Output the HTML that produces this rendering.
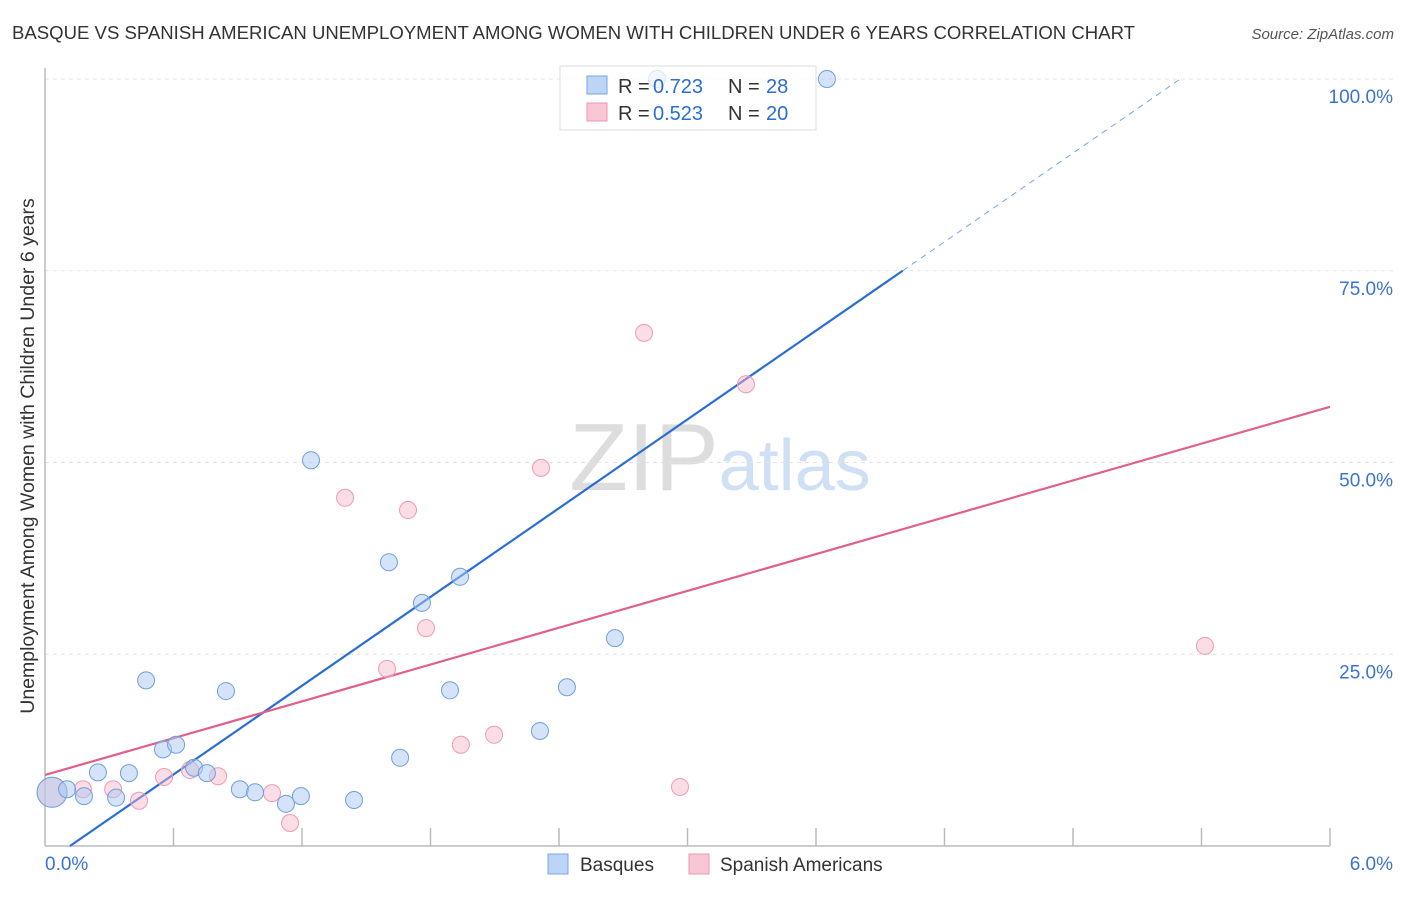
<!DOCTYPE html>
<html><head><meta charset="utf-8"><style>
body{margin:0;background:#fff;font-family:"Liberation Sans",sans-serif;}
svg text{font-family:"Liberation Sans",sans-serif;}
</style></head><body>
<svg id="chart" width="1406" height="892" xmlns="http://www.w3.org/2000/svg">
<text x="12" y="39" font-size="18" fill="#333" textLength="1123" lengthAdjust="spacingAndGlyphs">BASQUE VS SPANISH AMERICAN UNEMPLOYMENT AMONG WOMEN WITH CHILDREN UNDER 6 YEARS CORRELATION CHART</text>
<text x="1394" y="39" font-size="15" fill="#555" text-anchor="end" font-style="italic">Source: ZipAtlas.com</text>
<text x="720" y="490" font-size="96" text-anchor="middle" fill="#ddd" font-family="Liberation Serif">ZIP<tspan fill="#cfe0f5" font-family="Liberation Sans" font-size="72">atlas</tspan></text>
<text transform="translate(34,456) rotate(-90)" font-size="19.5" fill="#333" text-anchor="middle">Unemployment Among Women with Children Under 6 years</text>
<g id="grid"></g><g id="axes"></g><g id="lines"></g><g id="pts"></g>
<g>
<rect x="560" y="66" width="256" height="64" fill="rgba(255,255,255,0.75)" stroke="#ddd"/>
<rect x="587" y="76" width="20" height="18" fill="#bcd4f5" stroke="#7aa6e0"/>
<text x="618" y="93" font-size="20" fill="#333">R =</text><text x="653" y="93" font-size="20" fill="#2a6dd4">0.723</text>
<text x="728" y="93" font-size="20" fill="#333">N =</text><text x="766" y="93" font-size="20" fill="#2a6dd4">28</text>
<rect x="587" y="103" width="20" height="18" fill="#f9c6d5" stroke="#e89ab0"/>
<text x="618" y="120" font-size="20" fill="#333">R =</text><text x="653" y="120" font-size="20" fill="#2a6dd4">0.523</text>
<text x="728" y="120" font-size="20" fill="#333">N =</text><text x="766" y="120" font-size="20" fill="#2a6dd4">20</text>
</g>
<g>
<rect x="548" y="854" width="20" height="20" fill="#bcd4f5" stroke="#7aa6e0"/>
<text x="580" y="871" font-size="19" fill="#333">Basques</text>
<rect x="689" y="854" width="20" height="20" fill="#f9c6d5" stroke="#e89ab0"/>
<text x="720" y="871" font-size="19" fill="#333">Spanish Americans</text>
</g>
</svg>
<script>
const xTickLabels=["0.0%","6.0%"];
const yTicks=[25,50,75,100];
const yTickLabels=["25.0%","50.0%","75.0%","100.0%"];
const basqueX=[0.033,0.103,0.182,0.247,0.332,0.392,0.472,0.551,0.612,0.696,0.756,0.845,0.910,0.981,1.125,1.195,1.242,1.443,1.606,1.658,1.760,1.891,1.938,2.311,2.437,2.661,2.858,3.651];
const basqueY=[7.0,7.4,6.5,9.6,6.3,9.5,21.6,12.6,13.2,10.2,9.5,20.2,7.4,7.0,5.5,6.5,50.3,6.0,37.0,11.5,31.7,20.3,35.1,15.0,20.7,27.1,100,100];
const spanX=[0.033,0.177,0.318,0.439,0.556,0.677,0.808,1.060,1.144,1.401,1.597,1.695,1.779,1.942,2.097,2.316,2.797,2.965,3.273,5.416];
const spanY=[7.0,7.4,7.4,5.9,9.0,9.9,9.1,6.9,3.0,45.4,23.1,43.8,28.4,13.2,14.5,49.3,66.9,7.7,60.2,26.1];
const blueFit=[-2.25,19.29];
const pinkFit=[9.26,8.0];
const NS="http://www.w3.org/2000/svg";
const X=v=>45+v/6*1285, Y=v=>846-v/100*767;
function mk(tag,attrs,parent){const e=document.createElementNS(NS,tag);for(const k in attrs)e.setAttribute(k,attrs[k]);document.getElementById(parent).appendChild(e);return e;}
yTicks.forEach((t,i)=>{
 const l=mk('line',{x1:45,x2:1394,y1:Y(t),y2:Y(t),stroke:'#e3e3e3','stroke-dasharray':'4,4'},'grid');
 
 
 const tx=mk('text',{x:1393,y:Y(t)+24,'font-size':19,fill:'#3a74d0','text-anchor':'end'},'grid');
 tx.textContent=yTickLabels[i];
 
 
});
let a=mk('line',{x1:45,x2:1330,y1:846,y2:846,stroke:'#bbb','stroke-width':1.5},'axes');


a=mk('line',{x1:45,x2:45,y1:68,y2:846,stroke:'#bbb','stroke-width':1.5},'axes');


for(let i=1;i<=10;i++){const t=mk('line',{x1:X(i*0.6),x2:X(i*0.6),y1:828,y2:846,stroke:'#bbb','stroke-width':1.5},'axes');
 
 }
[[0,45,'start'],[6,1393,'end']].forEach((d,i)=>{const t=mk('text',{x:d[1],y:870,'font-size':19,fill:'#3a74d0','text-anchor':d[2]},'axes');t.textContent=xTickLabels[i];
 
 });
const bx0=-blueFit[0]/blueFit[1], bx1=(75-blueFit[0])/blueFit[1], bx2=(100-blueFit[0])/blueFit[1];
let ln=mk('line',{x1:X(bx0),y1:Y(0),x2:X(bx1),y2:Y(75),stroke:'#2a6dd4','stroke-width':2.2},'lines');


ln=mk('line',{x1:X(bx1),y1:Y(75),x2:X(bx2),y2:Y(100),stroke:'#7aa6e0','stroke-width':1,'stroke-dasharray':'6,5'},'lines');


ln=mk('line',{x1:X(0),y1:Y(pinkFit[0]),x2:X(6),y2:Y(pinkFit[0]+6*pinkFit[1]),stroke:'#e0608a','stroke-width':2.2},'lines');


spanX.forEach((v,i)=>{const c=mk('circle',{cx:X(v),cy:Y(spanY[i]),r:i==0?15:8.5,fill:'rgba(246,180,200,0.45)',stroke:'#ee9ab4','stroke-width':1},'pts');
 
 });
basqueX.forEach((v,i)=>{const c=mk('circle',{cx:X(v),cy:Y(basqueY[i]),r:i==0?15:8.5,fill:'rgba(170,200,240,0.5)',stroke:'#6f9fe0','stroke-width':1},'pts');
 
 });
</script>
</body></html>
